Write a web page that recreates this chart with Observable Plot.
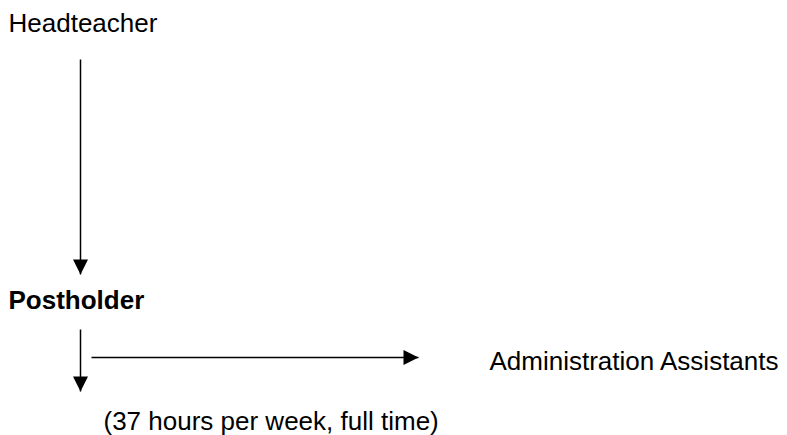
<!DOCTYPE html>
<html>
<head>
<meta charset="utf-8">
<script src="https://cdn.jsdelivr.net/npm/d3@7"></script>
<script src="https://cdn.jsdelivr.net/npm/@observablehq/plot@0.6"></script>
<style>
  html, body { margin: 0; padding: 0; background: #fff; }
  #chart svg { display: block; }
</style>
</head>
<body>
<div id="chart"></div>
<script>
// Node labels of the structure chart
const labels = ["Headteacher", "Postholder", "Administration Assistants", "(37 hours per week, full time)"];
const labelWeights = ["normal", "bold", "normal", "normal"];
const labelX = [8, 8, 489, 103];
const labelY = [23.5, 300, 361, 421.5];

// Arrows (start -> tip)
const arrowX1 = [80, 80, 91];
const arrowY1 = [59, 329, 357];
const arrowX2 = [80, 80, 418];
const arrowY2 = [274, 391, 357];

const textData = labels.map((t, i) => ({text: t, weight: labelWeights[i], x: labelX[i], y: labelY[i]}));
const arrows = arrowX1.map((_, i) => ({
  x1: arrowX1[i], y1: arrowY1[i], x2: arrowX2[i], y2: arrowY2[i],
  angle: Math.atan2(arrowY2[i] - arrowY1[i], arrowX2[i] - arrowX1[i]) * 180 / Math.PI + 90
}));

// filled arrowhead with its tip at the origin, pointing up
const head = {
  draw(context, size) {
    const h = 15, w = 7.5;
    context.moveTo(0, 0);
    context.lineTo(w, h);
    context.lineTo(-w, h);
    context.closePath();
  }
};

const chart = Plot.plot({
  width: 787,
  height: 435,
  margin: 0,
  x: {domain: [0, 787], range: [0, 787], axis: null},
  y: {domain: [0, 435], range: [0, 435], axis: null},
  style: {fontFamily: "'Liberation Sans', Arial, sans-serif", fontSize: "26px", background: "#fff"},
  marks: [
    Plot.link(arrows, {x1: "x1", y1: "y1", x2: "x2", y2: "y2", stroke: "#000", strokeWidth: 1.5}),
    Plot.dot(arrows, {x: "x2", y: "y2", symbol: head, r: 5, fill: "#000", stroke: "none", rotate: "angle"}),
    Plot.text(textData.filter(d => d.weight === "normal"), {x: "x", y: "y", text: "text", textAnchor: "start", lineAnchor: "middle", fill: "#000", fontSize: 26}),
    Plot.text(textData.filter(d => d.weight === "bold"), {x: "x", y: "y", text: "text", textAnchor: "start", lineAnchor: "middle", fill: "#000", fontSize: 26, fontWeight: "bold"})
  ]
});
document.getElementById("chart").appendChild(chart);
</script>
</body>
</html>
